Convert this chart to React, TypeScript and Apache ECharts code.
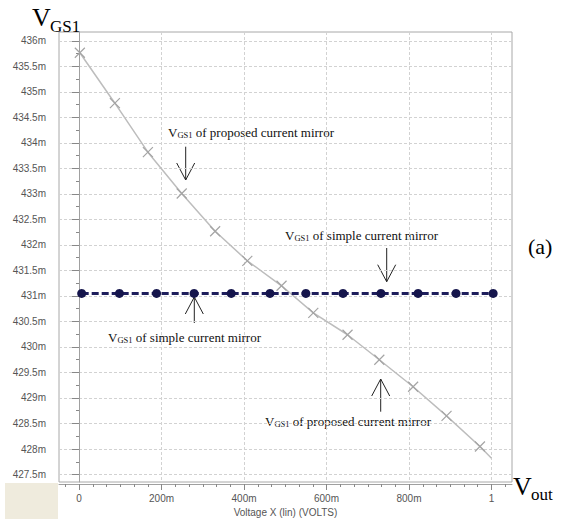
import { useEffect, useRef } from 'react';
import * as echarts from 'echarts';

// Axis ticks
const X_TICKS = [0, 0.2, 0.4, 0.6, 0.8, 1];
const X_TICK_LABELS = ['0', '200m', '400m', '600m', '800m', '1'];
const Y_TICKS = [
  427.5, 428, 428.5, 429, 429.5, 430, 430.5, 431, 431.5, 432, 432.5, 433, 433.5, 434, 434.5, 435, 435.5, 436,
];

// Vout in volts, VGS1 in millivolts
const PROPOSED_VOUT = [0.002, 0.087, 0.167, 0.249, 0.33, 0.408, 0.491, 0.568, 0.651, 0.728, 0.81, 0.891, 0.972, 1.0];
const PROPOSED_VGS1 = [
  435.77, 434.78, 433.82, 433.01, 432.27, 431.69, 431.2, 430.67, 430.24, 429.75, 429.22, 428.65, 428.05, 427.82,
];
const SIMPLE_VOUT = [0.0065, 0.098, 0.188, 0.279, 0.369, 0.463, 0.55, 0.64, 0.732, 0.822, 0.914, 1.004];
const SIMPLE_VGS1 = [
  431.05, 431.05, 431.05, 431.05, 431.05, 431.05, 431.05, 431.05, 431.05, 431.05, 431.05, 431.05,
];

const SERIF = '"Liberation Serif", "Times New Roman", serif';
const SANS = '"Liberation Sans", Arial, sans-serif';

// minor tick positions: halves of the y step, sixths of the x step
const Y_MINOR = Y_TICKS.slice(1).map((t) => t - 0.25);
const X_MINOR: number[] = [];
for (let k = -1; k <= 31; k++) if (k % 6 !== 0) X_MINOR.push(k / 30);

const annoRich = {
  v: { fontFamily: SERIF, fontSize: 13, lineHeight: 14, verticalAlign: 'bottom', fill: '#111' },
  s: { fontFamily: SERIF, fontSize: 8.5, lineHeight: 8, verticalAlign: 'bottom', fill: '#111' },
  t: { fontFamily: SERIF, fontSize: 13, lineHeight: 14, verticalAlign: 'bottom', fill: '#111' },
};

function annotation(text: string, x: number, y: number) {
  return {
    type: 'text',
    style: {
      text: `{v|V}{s|GS1}{t| ${text}}`,
      rich: annoRich,
      x,
      y,
      align: 'left',
      verticalAlign: 'middle',
    },
  };
}

function arrow(x: number, y1: number, y2: number, tipY: number, dir: 1 | -1) {
  const stroke = { stroke: '#222', lineWidth: 1, fill: 'none' };
  return [
    { type: 'line', shape: { x1: x, y1, x2: x, y2 }, style: stroke },
    {
      type: 'polyline',
      shape: { points: [[x - 9, tipY - dir * 17], [x, tipY], [x + 9, tipY - dir * 17]] },
      style: stroke,
    },
  ];
}

export default function App() {
  const ref = useRef<HTMLDivElement>(null);

  useEffect(() => {
    if (!ref.current) return;
    const chart = echarts.init(ref.current, undefined, { renderer: 'svg' });

    const xMin = -0.0485;
    const xMax = 1.0497;
    const yMin = 427.353;
    const yMax = 436.176;

    const axisLabelStyle = { color: '#555', fontFamily: SANS, fontSize: 10 };

    chart.setOption({
      animation: false,
      backgroundColor: '#fff',
      grid: {
        left: 59,
        top: 32,
        width: 453,
        height: 450,
        containLabel: false,
        outerBoundsMode: 'none',
        show: true,
        borderColor: '#a8a8a8',
        borderWidth: 1,
        backgroundColor: '#fff',
      },
      xAxis: [
        {
          type: 'value',
          min: xMin,
          max: xMax,
          position: 'bottom',
          offset: 2,
          axisLine: { show: true, lineStyle: { color: '#a0a0a0', width: 1 } },
          axisTick: { show: true, customValues: X_TICKS, length: 6, lineStyle: { color: '#888' } },
          axisLabel: {
            customValues: X_TICKS,
            margin: 9,
            ...axisLabelStyle,
            formatter: (v: number) => {
              const i = X_TICKS.findIndex((t) => Math.abs(t - v) < 1e-9);
              return i >= 0 ? X_TICK_LABELS[i] : '';
            },
          },
          splitLine: { show: true, lineStyle: { color: '#d2d2d2', type: [3, 2], width: 1 } },
          name: 'Voltage X (lin) (VOLTS)',
          nameLocation: 'middle',
          nameGap: 22,
          nameTextStyle: { ...axisLabelStyle },
        },
        {
          type: 'value',
          min: xMin,
          max: xMax,
          position: 'bottom',
          offset: 2,
          axisLine: { show: false },
          axisTick: { show: true, customValues: X_MINOR, length: 3, lineStyle: { color: '#888' } },
          axisLabel: { show: false },
          splitLine: { show: false },
        },
      ],
      yAxis: [
        {
          type: 'value',
          min: yMin,
          max: yMax,
          position: 'left',
          offset: 2,
          axisLine: { show: true, lineStyle: { color: '#a0a0a0', width: 1 } },
          axisTick: { show: true, customValues: Y_TICKS, length: 7, lineStyle: { color: '#888' } },
          axisLabel: {
            customValues: Y_TICKS,
            margin: 11,
            ...axisLabelStyle,
            formatter: (v: number) => `${v}m`,
          },
          splitLine: { show: true, lineStyle: { color: '#d2d2d2', type: [3, 2], width: 1 } },
        },
        {
          type: 'value',
          min: yMin,
          max: yMax,
          position: 'left',
          offset: 2,
          axisLine: { show: false },
          axisTick: { show: true, customValues: Y_MINOR, length: 3, lineStyle: { color: '#888' } },
          axisLabel: { show: false },
          splitLine: { show: false },
        },
      ],
      series: [
        {
          name: 'proposed',
          type: 'line',
          xAxisIndex: 0,
          yAxisIndex: 0,
          data: PROPOSED_VOUT.map((x, i) =>
            i === PROPOSED_VOUT.length - 1
              ? { value: [x, PROPOSED_VGS1[i]], symbol: 'none' }
              : { value: [x, PROPOSED_VGS1[i]] }
          ),
          symbol: 'path://M0,0L10,10M10,0L0,10',
          symbolSize: 10,
          itemStyle: { color: 'none', borderColor: '#a4a4a4', borderWidth: 1.2 },
          lineStyle: { color: '#bdbdbd', width: 1.5 },
          z: 2,
        },
        {
          name: 'simple',
          type: 'line',
          xAxisIndex: 0,
          yAxisIndex: 0,
          data: SIMPLE_VOUT.map((x, i) => [x, SIMPLE_VGS1[i]]),
          symbol: 'circle',
          symbolSize: 9,
          itemStyle: { color: '#15154c' },
          lineStyle: { color: '#1e1e5c', width: 3, type: [7, 3] },
          z: 3,
        },
      ],
      graphic: [
        {
          type: 'rect',
          shape: { x: 5, y: 483, width: 53, height: 36 },
          style: { fill: '#efebdd' },
          z: -10,
        },
        { type: 'text', style: { text: 'V', x: 32, y: 17, fontFamily: SERIF, fontSize: 26, fill: '#000', verticalAlign: 'middle' } },
        { type: 'text', style: { text: 'GS1', x: 50, y: 26, fontFamily: SERIF, fontSize: 17, fill: '#000', verticalAlign: 'middle' } },
        { type: 'text', style: { text: 'V', x: 513, y: 486, fontFamily: SERIF, fontSize: 26, fill: '#000', verticalAlign: 'middle' } },
        { type: 'text', style: { text: 'out', x: 531, y: 494, fontFamily: SERIF, fontSize: 17, fill: '#000', verticalAlign: 'middle' } },
        { type: 'text', style: { text: '(a)', x: 528, y: 246, fontFamily: SERIF, fontSize: 22, fill: '#000', verticalAlign: 'middle' } },
        annotation('of proposed current mirror', 168, 132),
        annotation('of simple current mirror', 285, 235),
        annotation('of simple current mirror', 108, 337),
        annotation('of proposed current mirror', 265, 421),
        ...arrow(185.7, 146.7, 180, 180, 1),
        ...arrow(386.7, 248, 281.7, 281.7, 1),
        ...arrow(194.3, 297, 323, 297, -1),
        ...arrow(380.7, 379, 411.7, 379, -1),
      ],
    });

    return () => chart.dispose();
  }, []);

  return <div ref={ref} style={{ position: 'absolute', left: 0, top: 0, width: 564, height: 519 }} />;
}
